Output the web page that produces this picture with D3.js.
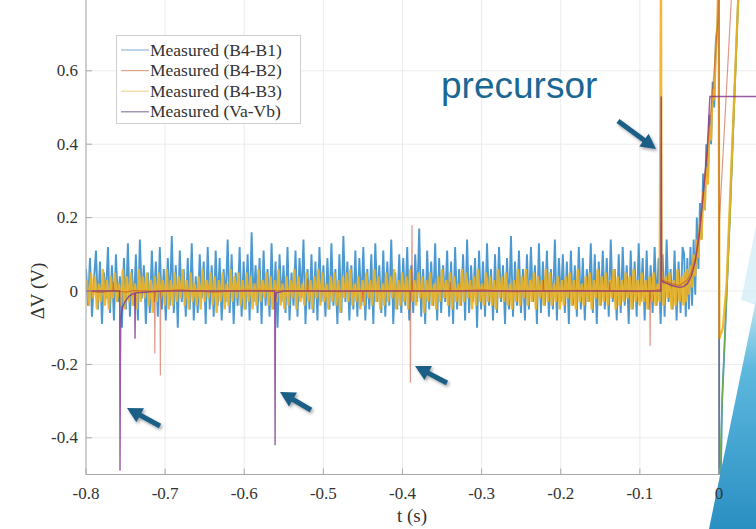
<!DOCTYPE html>
<html><head><meta charset="utf-8">
<script src="https://cdn.jsdelivr.net/npm/d3@7/dist/d3.min.js"></script>
<style>body{margin:0;background:#fff}svg{display:block}</style>
</head><body>
<svg id="c" width="756" height="529"></svg>
<script>
// ---------- data ----------
const xTicks = [-0.8,-0.7,-0.6,-0.5,-0.4,-0.3,-0.2,-0.1,0];
const xTickLabels = ["-0.8","-0.7","-0.6","-0.5","-0.4","-0.3","-0.2","-0.1","0"];
const yTicks = [-0.4,-0.2,0,0.2,0.4,0.6];
const yTickLabels = ["-0.4","-0.2","0","0.2","0.4","0.6"];
const seriesNames = ["Measured (B4-B1)","Measured (B4-B2)","Measured (B4-B3)","Measured (Va-Vb)"];
const seriesColors = ["#1f7fc6","#D95319","#EDB120","#7E2F8E"];
const noiseStart = -0.8, noiseEnd = -0.046;

// B4-B1 noise (units of 0.01 V), evenly sampled between noiseStart and noiseEnd
const blueNoise = [
6,-4,9,-7,3,11,-5,8,-9,5,-2,12,-6,7,-8,10,-3,4,-10,9,
-5,13,-7,6,-4,10,-8,14,-2,7,-9,5,-6,11,-3,8,-7,12,-5,6,
-8,9,-4,15,-6,7,-10,11,-3,6,-7,9,-5,13,-8,4,-6,10,-2,8,
-9,12,-5,7,-7,11,-4,9,-8,6,-3,14,-6,10,-9,5,-4,12,-7,8,
-5,10,-8,16,-3,7,-6,9,-9,11,-4,6,-7,13,-5,8,-10,10,-3,7,
-6,12,-8,5,-4,11,-7,9,-2,14,-9,6,-5,10,-6,8,-8,12,-3,7,
-7,9,-5,13,-4,6,-9,10,-6,15,-3,8,-8,7,-5,11,-7,9,-4,12,
-8,6,-5,10,-9,13,-3,7,-6,11,-7,8,-4,14,-9,5,-5,10,-6,9,
-4,12,-8,7,-6,10,-3,17,-7,6,-9,11,-5,8,-4,13,-8,9,-6,7,
-3,11,-7,8,-9,12,-5,6,-4,10,-8,14,-6,7,-3,9,-10,11,-5,8,
-7,13,-4,6,-8,10,-6,12,-3,7,-9,9,-5,15,-7,8,-4,11,-6,6,
-8,10,-5,12,-3,7,-9,13,-6,8,-4,11,-7,6,-5,14,-8,9,-3,10,
-6,8,-9,11,-4,7,-7,12,-5,9,-8,6,-3,13,-6,10,-9,8,-4,11,
-5,9,-7,14,-3,6,-8,10,-6,12,-4,7,-9,11,-5,8,-7,13,-3,9,
-8,11,-5,7,-6,12,-4,9,-9,10,-7,14,-3,6,-5,11,-8,8,-6,12];
const blueTailT = [-0.044,-0.042,-0.04,-0.038,-0.036,-0.034,-0.032,-0.03,-0.028,-0.026,-0.024,-0.022,-0.02,-0.018,-0.016,-0.014,-0.012,-0.01,-0.008,-0.006,-0.004,-0.002,0,0.0003,0.002,0.004,0.008,0.0135,0.024,0.03];
const blueTailV = [0.10,-0.07,0.09,-0.05,0.12,-0.04,0.14,-0.01,0.2,0.06,0.24,0.14,0.32,0.22,0.4,0.31,0.48,0.4,0.57,0.5,0.68,0.72,0.85,-0.6,-0.55,-0.3,-0.1,0.2,0.78,1.0];

// B4-B3 noise (units of 0.01 V)
const yellowNoise = [
3,-4,5,-2,4,-5,2,-3,6,-4,3,-5,4,-2,5,-3,2,-4,6,-5,
4,-3,5,-4,2,-5,6,-3,4,-2,5,-4,3,-6,4,-3,5,-2,3,-4,
6,-5,3,-4,5,-3,4,-2,6,-4,3,-5,5,-3,2,-4,4,-5,6,-3,
3,-2,5,-4,4,-6,3,-3,5,-5,2,-4,6,-3,4,-2,5,-4,3,-5,
5,-3,4,-5,2,-4,6,-3,3,-2,5,-4,4,-5,3,-3,6,-4,2,-5,
4,-4,3,-2,6,-5,4,-3,2,-4,5,-3,3,-5,4,-2,6,-4,5,-3,
2,-5,4,-3,5,-4,3,-6,4,-2,5,-3,6,-4,2,-3,4,-5,3,-4,
5,-2,3,-4,6,-3,4,-5,2,-4,5,-3,4,-2,6,-5,3,-4,5,-3,
4,-5,6,-3,3,-4,5,-2,4,-6,3,-3,5,-4,2,-5,4,-3,6,-2,
3,-4,5,-5,4,-3,2,-4,6,-3,5,-2,3,-5,4,-4,6,-3,2,-4,
5,-3,4,-4,3,-5,6,-2,4,-3,5,-4,2,-5,3,-3,6,-4,4,-2,
6,-4,3,-3,5,-5,4,-2,3,-4,6,-3,5,-4,2,-3,4,-5,3,-4,
4,-2,5,-4,3,-5,6,-3,2,-4,4,-3,5,-5,3,-2,6,-4,4,-3,
5,-4,3,-2,6,-5,4,-4,3,-3,5,-2,4,-5,6,-3,3,-4,5,-3,
3,-5,4,-3,5,-4,2,-3,6,-4,4,-2,5,-5,3,-4,6,-3,4,-4];
const yellowSpikeT = [-0.0733];
const yellowSpikeV = [0.9];
const yellowTailT = [-0.044,-0.042,-0.04,-0.038,-0.036,-0.034,-0.032,-0.03,-0.028,-0.026,-0.024,-0.022,-0.02,-0.018,-0.016,-0.014,-0.012,-0.01,-0.008,-0.006,-0.004,-0.002,-0.0005,0.0005,0.005,0.0097,0.014,0.024,0.03];
const yellowTailV = [0.05,-0.03,0.06,-0.01,0.07,0.01,0.1,0.04,0.14,0.09,0.19,0.14,0.27,0.22,0.34,0.29,0.45,0.41,0.55,0.52,0.66,0.72,0.9,-0.13,-0.1,0.02,0.25,0.78,1.0];

// B4-B2
const redT = [-0.8,-0.78,-0.766,-0.7655,-0.765,-0.75,-0.74,-0.7135,-0.713,-0.7125,-0.7065,-0.706,-0.7055,-0.68,-0.64,-0.6,-0.5205,-0.52,-0.5195,-0.48,-0.4505,-0.45,-0.4495,-0.3905,-0.39,-0.3895,-0.3885,-0.388,-0.3875,-0.34,-0.3395,-0.339,-0.3,-0.26,-0.2225,-0.222,-0.2215,-0.18,-0.1385,-0.138,-0.1375,-0.1,-0.0875,-0.087,-0.0865,-0.075,-0.0735,-0.073,-0.0725,-0.06,-0.05,-0.04,-0.035,-0.03,-0.025,-0.02,-0.015,-0.01,-0.005,-0.001,0.0,0.0002,0.0006,0.015,0.02];
const redV = [0,-0.004,0.002,0.025,0.002,-0.003,0.001,0.0,-0.17,0.0,0.0,-0.23,0.0,0.003,-0.003,0.002,0.0,0.035,0.0,-0.002,0.0,-0.03,0.0,0.0,-0.25,0.0,0.0,0.18,0.0,0.0,0.025,0.0,0.003,-0.002,0.0,0.03,0.0,0.002,0.0,0.025,0.0,-0.002,0.0,-0.15,0.0,0.004,0.0,0.04,0.03,0.02,0.015,0.03,0.05,0.09,0.16,0.27,0.38,0.5,0.63,0.75,0.85,-0.6,0.19,0.77,1.0];

// Va-Vb
const purpleT = [-0.8,-0.7575,-0.757,-0.7565,-0.756,-0.755,-0.7535,-0.751,-0.746,-0.741,-0.7385,-0.738,-0.7375,-0.73,-0.72,-0.7,-0.5615,-0.561,-0.5605,-0.5595,-0.55,-0.0735,-0.073,-0.0725,-0.071,-0.065,-0.06,-0.05,-0.045,-0.04,-0.035,-0.03,-0.025,-0.02,-0.015,-0.0115,0.0468];
const purpleV = [0,0,-0.49,-0.2,-0.08,-0.055,-0.043,-0.03,-0.015,-0.008,-0.006,-0.13,-0.005,-0.004,-0.002,0,0,-0.42,-0.03,-0.005,0,0,0.53,0.03,0.025,0.02,0.015,0.01,0.012,0.02,0.04,0.08,0.15,0.26,0.38,0.53,0.53];

// extra (unlabelled) trace after t = 0
const greenT = [0.0,0.005,0.014,0.024,0.03];
const greenV = [-0.55,-0.24,0.19,0.77,1.0];

// annotations
const annotText = "precursor";
const arrows = [[618,121,656,149],[160,426,127,408],[311,410,280,392],[447,383,415,366]];

// ---------- drawing ----------
const svg = d3.select("#c");
const x = d3.scaleLinear().domain([-0.8, 0.0468]).range([86, 756]);
const y = d3.scaleLinear().domain([-0.5, 0.8]).range([474.5, -2.6]);

const defs = svg.append("defs");
defs.append("clipPath").attr("id","plotclip").append("rect")
  .attr("x",86).attr("y",-3).attr("width",670).attr("height",477.5);
const sh = defs.append("filter").attr("id","shadow").attr("x","-50%").attr("y","-50%").attr("width","200%").attr("height","200%");
sh.append("feDropShadow").attr("dx",1.5).attr("dy",2).attr("stdDeviation",1.5).attr("flood-color","#000").attr("flood-opacity",0.35);
const grad = defs.append("linearGradient").attr("id","deco").attr("x1",0).attr("y1",0).attr("x2",0).attr("y2",1);
grad.append("stop").attr("offset","0%").attr("stop-color","#bfe5f2");
grad.append("stop").attr("offset","30%").attr("stop-color","#5db8de");
grad.append("stop").attr("offset","100%").attr("stop-color","#2a8fc2");

// grid
const g = svg.append("g");
g.selectAll("line.vg").data(xTicks).join("line")
  .attr("x1",d=>x(d)).attr("x2",d=>x(d)).attr("y1",-3).attr("y2",474.5)
  .attr("stroke","#ebebeb").attr("stroke-width",1);
g.selectAll("line.hg").data(yTicks).join("line")
  .attr("x1",86).attr("x2",756).attr("y1",d=>y(d)).attr("y2",d=>y(d))
  .attr("stroke","#ebebeb").attr("stroke-width",1);

// build series
const nb = blueNoise.length, ny = yellowNoise.length;
const bluePts = blueNoise.map((v,i)=>[noiseStart + i*(noiseEnd-noiseStart)/(nb-1), v/100])
  .concat(blueTailT.map((t,i)=>[t, blueTailV[i]]));
let yellowPts = yellowNoise.map((v,i)=>[noiseStart + 0.0012 + i*(noiseEnd-noiseStart)/(ny-1), v/100])
  .concat(yellowSpikeT.map((t,i)=>[t, yellowSpikeV[i]]));
yellowPts.sort((a,b)=>a[0]-b[0]);
yellowPts = yellowPts.concat(yellowTailT.map((t,i)=>[t, yellowTailV[i]]));
const redPts = redT.map((t,i)=>[t, redV[i]]);
const purplePts = purpleT.map((t,i)=>[t, purpleV[i]]);
const greenPts = greenT.map((t,i)=>[t, greenV[i]]);

const line = d3.line().x(d=>x(d[0])).y(d=>y(d[1]));
const plot = svg.append("g").attr("clip-path","url(#plotclip)");
plot.append("path").attr("d",line(bluePts)).attr("fill","none")
  .attr("stroke",seriesColors[0]).attr("stroke-width",1.9).attr("stroke-opacity",0.8);
plot.append("path").attr("d",line(greenPts)).attr("fill","none")
  .attr("stroke","#77AC30").attr("stroke-width",1.3).attr("stroke-opacity",0.8);
plot.append("path").attr("d",line(yellowPts)).attr("fill","none")
  .attr("stroke",seriesColors[2]).attr("stroke-width",2.3).attr("stroke-opacity",0.9);
plot.append("path").attr("d",line(purplePts)).attr("fill","none")
  .attr("stroke",seriesColors[3]).attr("stroke-width",1.4).attr("stroke-opacity",0.8);
plot.append("path").attr("d",line(redPts)).attr("fill","none")
  .attr("stroke","#C8452A").attr("stroke-width",1.2).attr("stroke-opacity",0.55);

// axes lines and ticks
const axC = "#a8a8a8", txtC = "#333", serif = "'Liberation Serif','Times New Roman',serif";
svg.append("line").attr("x1",86).attr("x2",86).attr("y1",-3).attr("y2",474.5).attr("stroke",axC);
svg.append("line").attr("x1",86).attr("x2",756).attr("y1",474.5).attr("y2",474.5).attr("stroke",axC);
svg.selectAll("line.xt").data(xTicks).join("line")
  .attr("x1",d=>x(d)).attr("x2",d=>x(d)).attr("y1",474.5).attr("y2",468.5).attr("stroke",axC);
svg.selectAll("line.yt").data(yTicks).join("line")
  .attr("x1",86).attr("x2",92).attr("y1",d=>y(d)).attr("y2",d=>y(d)).attr("stroke",axC);

// slide decoration (beneath the tick labels)
svg.append("path").attr("d","M741,300L756,226L756,305Z").attr("fill","#d4eef7").attr("opacity",0.8);
svg.append("path").attr("d","M709,529L756,300L756,529Z").attr("fill","url(#deco)");

// tick labels and axis titles
svg.selectAll("text.xl").data(xTicks).join("text")
  .attr("x",d=>x(d)).attr("y",499).attr("text-anchor","middle")
  .attr("font-family",serif).attr("font-size",17).attr("fill",txtC)
  .text((d,i)=>xTickLabels[i]);
svg.selectAll("text.yl").data(yTicks).join("text")
  .attr("x",78).attr("y",d=>y(d)+5.5).attr("text-anchor","end")
  .attr("font-family",serif).attr("font-size",17).attr("fill",txtC)
  .text((d,i)=>yTickLabels[i]);
svg.append("text").attr("x",412).attr("y",522).attr("text-anchor","middle")
  .attr("font-family",serif).attr("font-size",19).attr("fill",txtC).text("t (s)");
svg.append("text").attr("transform","translate(44,291) rotate(-90)").attr("text-anchor","middle")
  .attr("font-family",serif).attr("font-size",19).attr("fill",txtC).text("ΔV (V)");

// legend
const lg = svg.append("g");
lg.append("rect").attr("x",116.5).attr("y",35.5).attr("width",184).attr("height",88)
  .attr("fill","#fff").attr("stroke","#cfcfcf");
const legColors = ["#8fb7d9","#e3a58c","#f0d49a","#8c7c9c"];
seriesNames.forEach((n,i)=>{
  const yy = 50 + i*20.6;
  lg.append("line").attr("x1",121).attr("x2",149).attr("y1",yy).attr("y2",yy)
    .attr("stroke",legColors[i]).attr("stroke-width",1.2);
  lg.append("text").attr("x",150).attr("y",yy+5.5)
    .attr("font-family",serif).attr("font-size",17.5).attr("fill","#333").text(n);
});

// annotation text
svg.append("text").attr("x",441).attr("y",98).attr("font-family","'Liberation Sans',Arial,sans-serif")
  .attr("font-size",37).attr("fill","#1b6794").text(annotText);

// arrows
const ag = svg.append("g").attr("filter","url(#shadow)");
arrows.forEach(a=>{
  const [x0,y0,x1,y1] = a;
  const dx = x1-x0, dy = y1-y0, L = Math.hypot(dx,dy), ux = dx/L, uy = dy/L;
  const hl = 15, hw = 8;
  const bx = x1 - ux*hl, by = y1 - uy*hl;
  ag.append("line").attr("x1",x0).attr("y1",y0).attr("x2",bx+ux*2).attr("y2",by+uy*2)
    .attr("stroke","#1c5f86").attr("stroke-width",5);
  ag.append("path").attr("d",`M${x1},${y1}L${bx - uy*hw},${by + ux*hw}L${bx + uy*hw},${by - ux*hw}Z`)
    .attr("fill","#1c5f86");
});
</script>
</body></html>
